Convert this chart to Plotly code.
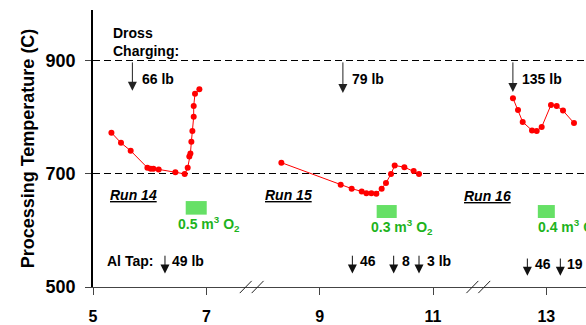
import plotly.graph_objects as go

# ---------------- data ----------------
run14_x = [5.325, 5.494, 5.665, 5.96, 6.018, 6.066, 6.159, 6.454, 6.618, 6.671, 6.70, 6.719, 6.736, 6.754, 6.777, 6.777, 6.80, 6.877]
run14_y = [773, 755, 741, 711, 709, 709, 708, 703, 700, 711, 731, 736, 757, 776, 801, 820, 842, 850]

run15_x = [8.324, 9.371, 9.565, 9.742, 9.824, 9.913, 10.0, 10.094, 10.17, 10.259, 10.324, 10.495, 10.659, 10.753]
run15_y = [720, 681, 674, 669, 666, 666, 665, 674, 684, 700, 715, 712, 705, 700]

run16_x = [12.411, 12.50, 12.583, 12.747, 12.83, 12.918, 13.082, 13.183, 13.294, 13.488]
run16_y = [834, 813, 792, 777, 776, 783, 822, 820, 812, 790]

x_ticks = [5, 7, 9, 11, 13]
y_ticks = [500, 700, 900]
break_x = [7.8, 11.8]

run_names = ["Run 14", "Run 15", "Run 16"]
run_label_x = [5.713, 8.448, 11.965]
run_label_y = [663, 663, 661]

dross_x = [5.695, 9.41, 12.41]
dross_tip_y = [847, 843, 845]
dross_labels = ["66 lb", "79 lb", "135 lb"]
dross_label_x = [5.824, 9.529, 12.529]
dross_label_y = 868

o2_x0 = [6.636, 10.006, 12.85]
o2_x1 = [7.007, 10.36, 13.15]
o2_y0 = [628, 622, 622]
o2_y1 = [652, 645, 645]
o2_amounts = ["0.5", "0.3", "0.4"]
o2_label_x = [6.47, 9.875, 12.81]
o2_label_y = [612, 607, 607]

tap_x = [6.27, 9.577, 10.306, 10.753, 12.665, 13.247]
tap_top_y = [558, 558, 558, 558, 553, 553]
tap_tip_y = [524, 524, 524, 524, 520, 520]
tap_labels = ["49 lb", "46", "8", "3 lb", "46", "19 lb"]
tap_label_x = [6.353, 9.676, 10.41, 10.853, 12.764, 13.33]
tap_label_y = [546, 546, 546, 546, 541, 541]

FONT = "Liberation Sans, Arial, sans-serif"
GREEN = "#1DB31D"

fig = go.Figure()
for xs, ys in [(run14_x, run14_y), (run15_x, run15_y), (run16_x, run16_y)]:
    fig.add_trace(go.Scatter(
        x=xs, y=ys, mode="lines+markers",
        line=dict(color="#FF0000", width=1),
        marker=dict(color="#FF0000", size=6, symbol="circle"),
        showlegend=False, hoverinfo="skip"))

ann = []
# Dross charging
ann.append(dict(x=5.325, y=933, xref="x", yref="y", text="Dross<br>Charging:",
                showarrow=False, xanchor="left", yanchor="middle", align="left",
                font=dict(family=FONT, size=14, color="black", weight="bold")))
for x, tip, lab, lx in zip(dross_x, dross_tip_y, dross_labels, dross_label_x):
    ann.append(dict(x=x, y=tip, ax=x, ay=900, xref="x", yref="y", axref="x", ayref="y",
                    text="", showarrow=True, arrowhead=2, arrowsize=1.8, arrowwidth=1,
                    arrowcolor="#222"))
    ann.append(dict(x=lx, y=dross_label_y, xref="x", yref="y", text=lab, showarrow=False,
                    xanchor="left", yanchor="middle",
                    font=dict(family=FONT, size=14, color="black", weight="bold")))

# Run labels
for name, x, y in zip(run_names, run_label_x, run_label_y):
    ann.append(dict(x=x, y=y, xref="x", yref="y", text="<i><u>" + name + "</u></i>",
                    showarrow=False, xanchor="center", yanchor="middle",
                    font=dict(family=FONT, size=14, color="black", weight="bold")))

# O2 labels
for amt, x, y in zip(o2_amounts, o2_label_x, o2_label_y):
    ann.append(dict(x=x, y=y, xref="x", yref="y",
                    text=amt + " m<sup>3</sup> O<sub>2</sub>",
                    showarrow=False, xanchor="left", yanchor="middle",
                    font=dict(family=FONT, size=14, color=GREEN, weight="bold")))

# Al tap
ann.append(dict(x=5.219, y=546, xref="x", yref="y", text="Al Tap:", showarrow=False,
                xanchor="left", yanchor="middle",
                font=dict(family=FONT, size=14, color="black", weight="bold")))
for x, top, tip, lab, lx, ly in zip(tap_x, tap_top_y, tap_tip_y, tap_labels, tap_label_x, tap_label_y):
    ann.append(dict(x=x, y=tip, ax=x, ay=top, xref="x", yref="y", axref="x", ayref="y",
                    text="", showarrow=True, arrowhead=2, arrowsize=1.8, arrowwidth=1,
                    arrowcolor="#111"))
    ann.append(dict(x=lx, y=ly, xref="x", yref="y", text=lab, showarrow=False,
                    xanchor="left", yanchor="middle",
                    font=dict(family=FONT, size=14, color="black", weight="bold")))

shapes = []
for x0, x1, y0, y1 in zip(o2_x0, o2_x1, o2_y0, o2_y1):
    shapes.append(dict(type="rect", xref="x", yref="y", x0=x0, x1=x1, y0=y0, y1=y1,
                       fillcolor="#66E066", line=dict(width=0)))
for bx in break_x:
    for off in (-0.105, 0.105):
        shapes.append(dict(type="line", xref="x", yref="paper",
                           x0=bx + off - 0.105, x1=bx + off + 0.105,
                           y0=-0.022, y1=0.022, line=dict(color="#222", width=1)))

fig.update_layout(
    width=586, height=325,
    margin=dict(l=93, r=0, t=10, b=38, autoexpand=False),
    paper_bgcolor="white", plot_bgcolor="white",
    showlegend=False,
    annotations=ann, shapes=shapes,
    xaxis=dict(range=[5, 13.7], tickvals=x_ticks, ticktext=[str(v) for v in x_ticks],
               automargin=False,
               showgrid=False, zeroline=False, showline=True, linecolor="#444", linewidth=1.2,
               ticks="outside", ticklen=7, tickcolor="#444", tickwidth=1,
               ticklabelstandoff=8,
               tickfont=dict(family=FONT, size=16, color="black", weight="bold")),
    yaxis=dict(range=[500, 990], tickvals=y_ticks, ticktext=[str(v) for v in y_ticks],
               automargin=False,
               showgrid=True, gridcolor="black", gridwidth=1, griddash="7px,4px",
               zeroline=False, showline=True, linecolor="black", linewidth=1.5,
               ticks="outside", ticklen=6, tickcolor="#444", tickwidth=1,
               ticklabelstandoff=6,
               tickfont=dict(family=FONT, size=18, color="black", weight="bold"),
               title=dict(text="Processing Temperature (C)", standoff=6,
                          font=dict(family=FONT, size=18, color="black", weight="bold"))),
)

fig.write_html("out.html", config={"displayModeBar": False},
               post_script="document.body.style.margin='0';document.body.style.overflow='hidden';")
